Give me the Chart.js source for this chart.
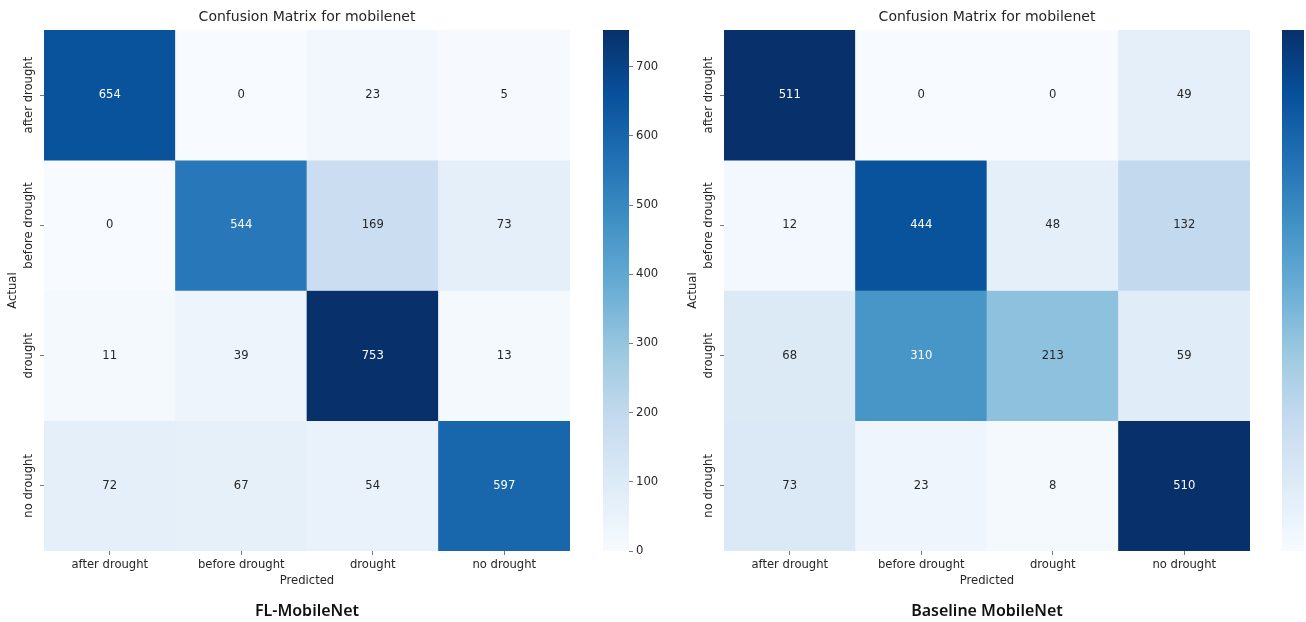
<!DOCTYPE html>
<html>
<head>
<meta charset="utf-8">
<title>Confusion Matrix for mobilenet</title>
<script src="https://cdn.jsdelivr.net/npm/chart.js@4"></script>
<style>
  html, body { margin: 0; padding: 0; background: #ffffff; overflow: hidden; }
  #wrap { position: relative; width: 1306px; height: 622px; overflow: hidden; background: #ffffff; }
  .box { position: absolute; top: 0; }
  canvas { display: block; }
</style>
</head>
<body>
<div id="wrap">
  <div class="box" style="left:0px"><canvas id="hmFL" width="614" height="622"></canvas></div>
  <div class="box" style="left:603px"><canvas id="cbFL" width="60" height="600"></canvas></div>
  <div class="box" style="left:680px"><canvas id="hmBase" width="614" height="622"></canvas></div>
  <div class="box" style="left:1282px"><canvas id="cbBase" width="60" height="600"></canvas></div>
</div>
<script>
// Class names on both axes
const predictedLabels = ['after drought', 'before drought', 'drought', 'no drought'];
const actualLabels = ['after drought', 'before drought', 'drought', 'no drought'];

// Confusion matrix counts, one row per actual class
const flMobileNet = [
  [654, 0, 23, 5],
  [0, 544, 169, 73],
  [11, 39, 753, 13],
  [72, 67, 54, 597]
];
const baselineMobileNet = [
  [511, 0, 0, 49],
  [12, 444, 48, 132],
  [68, 310, 213, 59],
  [73, 23, 8, 510]
];

// Colour bar tick spacing
const colorbarStep = 100;

const FONT = "'DejaVu Sans', 'Liberation Sans', sans-serif";
const TEXT_DARK = '#262626';
const TICK_COLOR = '#555555';

// "Blues" sequential colour ramp
const BLUES = ['#f7fbff', '#deebf7', '#c6dbef', '#9ecae1', '#6baed6', '#4292c6', '#2171b5', '#08519c', '#08306b'];

function hexToRgb(h) {
  return [parseInt(h.slice(1, 3), 16), parseInt(h.slice(3, 5), 16), parseInt(h.slice(5, 7), 16)];
}
const BLUES_RGB = BLUES.map(hexToRgb);

function bluesRgb(t) {
  t = Math.max(0, Math.min(1, t));
  const pos = t * (BLUES_RGB.length - 1);
  const i = Math.min(Math.floor(pos), BLUES_RGB.length - 2);
  const f = pos - i;
  const a = BLUES_RGB[i], b = BLUES_RGB[i + 1];
  return [0, 1, 2].map(k => Math.round(a[k] + (b[k] - a[k]) * f));
}
function rgbStr(c) { return 'rgb(' + c[0] + ',' + c[1] + ',' + c[2] + ')'; }

function luminance(c) {
  const lin = c.map(v => {
    v /= 255;
    return v <= 0.03928 ? v / 12.92 : Math.pow((v + 0.055) / 1.055, 2.4);
  });
  return 0.2126 * lin[0] + 0.7152 * lin[1] + 0.0722 * lin[2];
}

// Writes each cell's count in its centre, light text on dark cells
const cellLabels = {
  id: 'cellLabels',
  afterDatasetsDraw(chart) {
    const ctx = chart.ctx;
    ctx.save();
    ctx.font = '11.6px ' + FONT;
    ctx.textAlign = 'center';
    ctx.textBaseline = 'middle';
    chart.data.datasets.forEach((ds, di) => {
      const meta = chart.getDatasetMeta(di);
      meta.data.forEach((bar, i) => {
        const raw = ds.data[i];
        const rgb = bluesRgb(raw.v / ds.vmax);
        ctx.fillStyle = luminance(rgb) > 0.408 ? TEXT_DARK : '#ffffff';
        ctx.fillText(String(raw.v), bar.x, (bar.y + bar.base) / 2);
      });
    });
    ctx.restore();
  }
};

// Row labels on the y axis, rotated to read bottom-to-top
const rowLabels = {
  id: 'rowLabels',
  afterDraw(chart) {
    const scale = chart.scales.y;
    const ctx = chart.ctx;
    ctx.save();
    ctx.font = '11.6px ' + FONT;
    ctx.fillStyle = TEXT_DARK;
    ctx.textAlign = 'center';
    ctx.textBaseline = 'middle';
    scale.ticks.forEach((tick, i) => {
      const y = scale.getPixelForValue(tick.value);
      const x = scale.right - 15;
      ctx.save();
      ctx.translate(x, y);
      ctx.rotate(-Math.PI / 2);
      ctx.fillText(actualLabels[i], 0, 0);
      ctx.restore();
    });
    ctx.restore();
  }
};

function makeHeatmap(id, matrix, caption) {
  const vmax = Math.max(...matrix.flat());
  const datasets = matrix.map((row, r) => ({
    label: actualLabels[r],
    vmax: vmax,
    data: row.map((v, c) => ({ x: predictedLabels[c], y: [r, r + 1], v: v })),
    backgroundColor: row.map(v => rgbStr(bluesRgb(v / vmax))),
    borderWidth: 0,
    grouped: false,
    barPercentage: 1,
    categoryPercentage: 1
  }));

  const tickFont = { family: FONT, size: 11.6 };
  new Chart(document.getElementById(id), {
    type: 'bar',
    data: { labels: predictedLabels, datasets: datasets },
    plugins: [cellLabels, rowLabels],
    options: {
      responsive: false,
      animation: false,
      devicePixelRatio: 1,
      layout: { padding: { left: 0, right: 44, top: 0, bottom: 0 } },
      plugins: {
        legend: { display: false },
        tooltip: { enabled: false },
        title: {
          display: true,
          text: 'Confusion Matrix for mobilenet',
          fullSize: false,
          color: TEXT_DARK,
          font: { family: FONT, size: 14, weight: 'normal' },
          padding: { top: 8.6, bottom: 4.6 }
        },
        subtitle: {
          display: true,
          position: 'bottom',
          text: caption,
          fullSize: false,
          color: '#111111',
          font: { family: "'Noto Sans', 'Open Sans', sans-serif", size: 16, weight: '600' },
          padding: { top: 1.4, bottom: 1.4 }
        }
      },
      scales: {
        x: {
          type: 'category',
          offset: true,
          border: { display: false },
          grid: { offset: false, drawOnChartArea: false, drawTicks: true, tickLength: 4, color: TICK_COLOR, lineWidth: 0.8 },
          ticks: { color: TEXT_DARK, font: tickFont, padding: 3, maxRotation: 0, autoSkip: false },
          title: { display: true, text: 'Predicted', color: TEXT_DARK, font: tickFont, padding: { top: 0, bottom: 12 } },
          afterFit(s) { s.height = 49; }
        },
        y: {
          type: 'linear',
          min: 0,
          max: 4,
          reverse: true,
          afterBuildTicks(s) { s.ticks = actualLabels.map((_, i) => ({ value: i + 0.5 })); },
          border: { display: false },
          grid: { drawOnChartArea: false, drawTicks: true, tickLength: 4, color: TICK_COLOR, lineWidth: 0.8 },
          ticks: { display: false },
          title: { display: true, text: 'Actual', color: TEXT_DARK, font: tickFont, padding: { top: 6, bottom: 0 } },
          afterFit(s) { s.width = 44; }
        }
      }
    }
  });
  return vmax;
}

function barGradient(chart) {
  const area = chart.chartArea;
  if (!area) return BLUES[4];
  const g = chart.ctx.createLinearGradient(0, area.bottom, 0, area.top);
  BLUES.forEach((c, i) => g.addColorStop(i / (BLUES.length - 1), c));
  return g;
}

function makeColorbar(id, vmax, barWidth, showTicks) {
  new Chart(document.getElementById(id), {
    type: 'bar',
    data: {
      labels: ['count'],
      datasets: [{
        data: [[0, vmax]],
        backgroundColor: ctx => barGradient(ctx.chart),
        borderWidth: 0,
        barPercentage: 1,
        categoryPercentage: 1
      }]
    },
    options: {
      responsive: false,
      animation: false,
      devicePixelRatio: 1,
      layout: { padding: { top: 30, bottom: 49, left: 0, right: 0 } },
      plugins: { legend: { display: false }, tooltip: { enabled: false } },
      scales: {
        x: { display: false },
        y: {
          position: 'right',
          min: 0,
          max: vmax,
          border: { display: false },
          grid: { drawOnChartArea: false, drawTicks: showTicks, tickLength: 4, color: TICK_COLOR, lineWidth: 0.8 },
          ticks: { stepSize: colorbarStep, includeBounds: false, color: TEXT_DARK, font: { family: FONT, size: 11.6 }, padding: 3 },
          afterFit(s) { s.width = 60 - barWidth; }
        }
      }
    }
  });
}

const vmaxFL = makeHeatmap('hmFL', flMobileNet, 'FL-MobileNet');
const vmaxBase = makeHeatmap('hmBase', baselineMobileNet, 'Baseline MobileNet');
makeColorbar('cbFL', vmaxFL, 26, true);
makeColorbar('cbBase', vmaxBase, 22, false);
</script>
</body>
</html>
